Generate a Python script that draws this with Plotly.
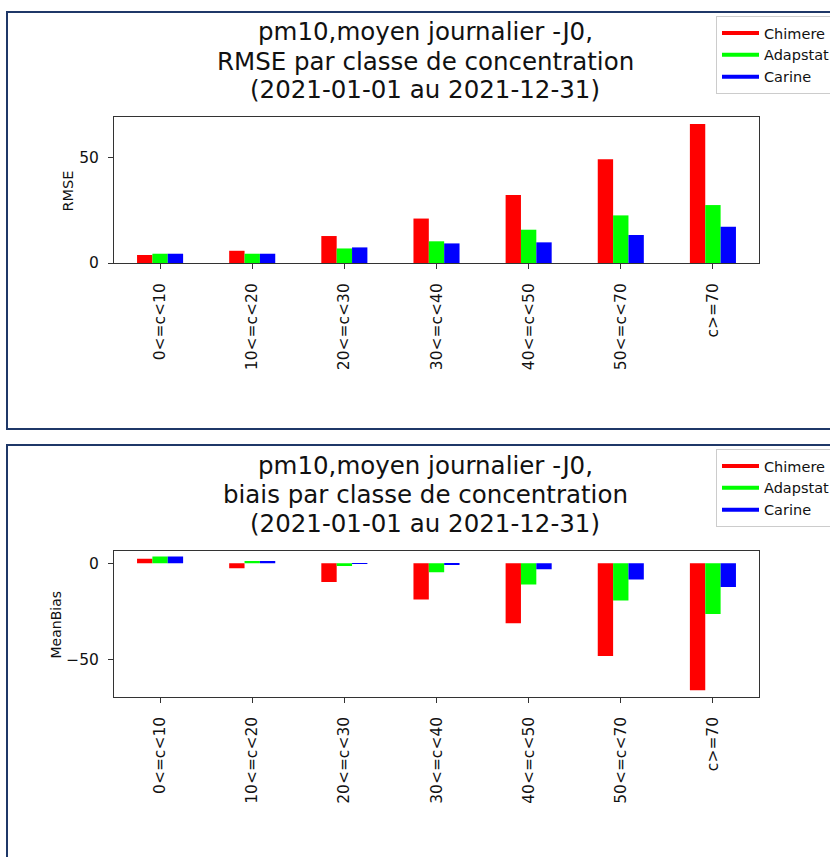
import plotly.graph_objects as go

# Concentration classes (µg/m3) and scores per model
categories = ["0<=c<10", "10<=c<20", "20<=c<30", "30<=c<40", "40<=c<50", "50<=c<70", "c>=70"]
models = ["Chimere", "Adapstat", "Carine"]
colors = ["#ff0000", "#00ff00", "#0000ff"]

rmse_chimere = [3.8, 5.8, 12.8, 21.1, 32.3, 49.2, 66.0]
rmse_adapstat = [4.4, 4.4, 6.9, 10.3, 15.8, 22.6, 27.5]
rmse_carine = [4.4, 4.4, 7.4, 9.3, 9.8, 13.3, 17.2]

bias_chimere = [2.3, -2.6, -9.7, -18.9, -31.3, -48.3, -66.1]
bias_adapstat = [3.5, 1.2, -1.4, -4.7, -11.1, -19.4, -26.4]
bias_carine = [3.5, 1.2, -0.1, -0.4, -3.1, -8.5, -12.3]

title_top = ["pm10,moyen journalier -J0,", "RMSE par classe de concentration", "(2021-01-01 au 2021-12-31)"]
title_bottom = ["pm10,moyen journalier -J0,", "biais par classe de concentration", "(2021-01-01 au 2021-12-31)"]

W, H = 830, 857
FONT = "DejaVu Sans"
AXCOL = "#333333"
FRAME = "#1f3868"


def px_x(x):
    return x / W


def px_y(y):
    return 1 - y / H


idx = list(range(len(categories)))
rmse = [rmse_chimere, rmse_adapstat, rmse_carine]
bias = [bias_chimere, bias_adapstat, bias_carine]

fig = go.Figure()

for name, col, vals in zip(models, colors, rmse):
    fig.add_trace(go.Bar(x=idx, y=vals, name=name, marker=dict(color=col, line=dict(width=0)),
                         xaxis="x", yaxis="y", showlegend=False))
for name, col, vals in zip(models, colors, bias):
    fig.add_trace(go.Bar(x=idx, y=vals, name=name, marker=dict(color=col, line=dict(width=0)),
                         xaxis="x2", yaxis="y2", showlegend=False))

# legend entries drawn as line handles
for lg in ["legend", "legend2"]:
    for name, col in zip(models, colors):
        fig.add_trace(go.Scatter(x=[None], y=[None], mode="lines", name=name,
                                 line=dict(color=col, width=4), legend=lg,
                                 xaxis="x" if lg == "legend" else "x2",
                                 yaxis="y" if lg == "legend" else "y2"))

xdom = [px_x(114), px_x(759)]
common_x = dict(
    domain=xdom, range=[-0.5, 6.5], tickmode="array", tickvals=idx, ticktext=categories,
    tickangle=-90, ticks="outside", ticklen=5, tickcolor=AXCOL, tickwidth=1,
    showline=True, linecolor=AXCOL, linewidth=1, mirror=True, showgrid=False, zeroline=False,
    tickfont=dict(family=FONT, size=15.5, color="#111"), ticklabelstandoff=8,
)
common_y = dict(
    dtick=50, ticks="outside", ticklen=5, tickcolor=AXCOL, tickwidth=1,
    showline=True, linecolor=AXCOL, linewidth=1, mirror=True, showgrid=False, zeroline=False,
    tickfont=dict(family=FONT, size=15.5, color="#111"), ticklabelstandoff=6,
)

legend_style = dict(xanchor="left", yanchor="top", bordercolor="#cccccc", borderwidth=1,
                    bgcolor="white", itemwidth=37,
                    font=dict(family=FONT, size=14.5, color="#111"))

fig.update_layout(
    width=W, height=H, margin=dict(l=0, r=0, t=0, b=0, autoexpand=False),
    paper_bgcolor="white", plot_bgcolor="white", template="none",
    barmode="group", bargap=0.5, bargroupgap=0,
    xaxis=dict(**common_x, anchor="y"),
    yaxis=dict(**common_y, domain=[px_y(263), px_y(117)], range=[0, 69.3], anchor="x"),
    xaxis2=dict(**common_x, anchor="y2"),
    yaxis2=dict(**common_y, domain=[px_y(696.7), px_y(551)], range=[-69.5, 6.4], anchor="x2"),
    legend=dict(x=px_x(716), y=px_y(16), **legend_style),
    legend2=dict(x=px_x(716), y=px_y(449), **legend_style),
    showlegend=True,
)

annotations = []
offset = 433
for k, lines in enumerate([title_top, title_bottom]):
    for i, line in enumerate(lines):
        yc = [32, 61, 90][i] + k * offset
        annotations.append(dict(text=line, x=px_x(425), y=px_y(yc), xref="paper", yref="paper",
                                xanchor="center", yanchor="middle", showarrow=False,
                                font=dict(family=FONT, size=24.5, color="#111")))
annotations.append(dict(text="RMSE", x=px_x(67.5), y=px_y(191), xref="paper", yref="paper",
                        textangle=-90, xanchor="center", yanchor="middle", showarrow=False,
                        font=dict(family=FONT, size=14.5, color="#111")))
annotations.append(dict(text="MeanBias", x=px_x(55.5), y=px_y(625), xref="paper", yref="paper",
                        textangle=-90, xanchor="center", yanchor="middle", showarrow=False,
                        font=dict(family=FONT, size=14, color="#111")))
fig.update_layout(annotations=annotations)

# panel frames
fig.add_shape(type="rect", xref="paper", yref="paper", x0=px_x(7), x1=1.05, y0=px_y(429), y1=px_y(12),
              line=dict(color=FRAME, width=2), fillcolor="rgba(0,0,0,0)", layer="above")
fig.add_shape(type="rect", xref="paper", yref="paper", x0=px_x(7), x1=1.05, y0=-0.05, y1=px_y(445),
              line=dict(color=FRAME, width=2), fillcolor="rgba(0,0,0,0)", layer="above")

fig.write_html("out.html")
